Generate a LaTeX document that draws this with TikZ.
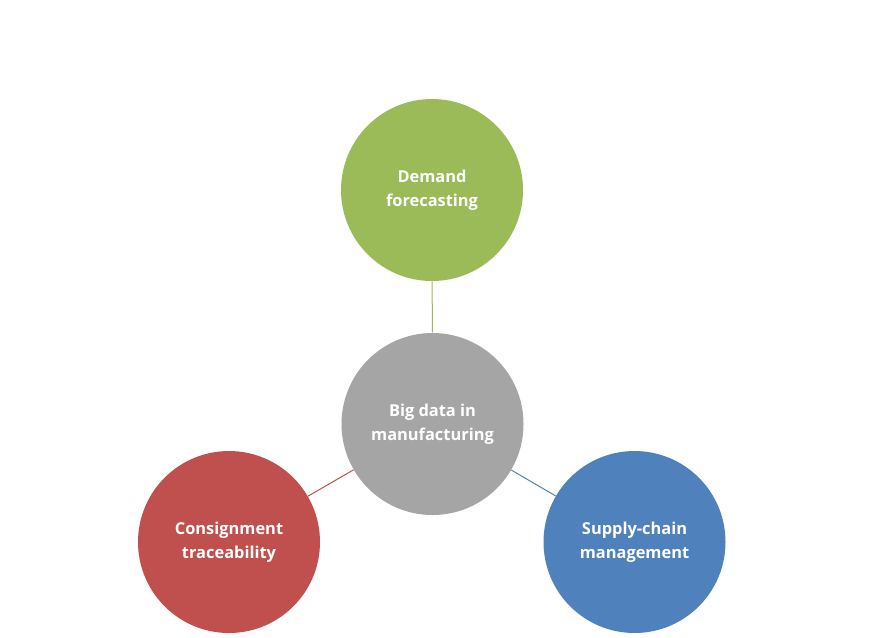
\documentclass[tikz,border=0pt]{standalone}
\usepackage{fontspec}
\setmainfont{Open Sans}
\definecolor{hubgray}{HTML}{A5A5A5}
\definecolor{demandgreen}{HTML}{9BBB59}
\definecolor{tracered}{HTML}{C0504D}
\definecolor{supplyblue}{HTML}{4F81BD}
\tikzset{
  topic/.style={circle,minimum size=136.5pt,inner sep=0pt,text=white,align=center,
    font=\bfseries\fontsize{12.3}{18}\selectfont},
  link/.style={line width=0.75pt}
}
\begin{document}
\begin{tikzpicture}[x=0.75pt,y=-0.75pt]
\useasboundingbox (0,0) rectangle (870,637);
\node[topic,fill=hubgray] (hub) at (432.5,424) {Big data in\\manufacturing};
\node[topic,fill=demandgreen] (demand) at (432,190) {Demand\\forecasting};
\node[topic,fill=tracered] (trace) at (229,542) {Consignment\\traceability};
\node[topic,fill=supplyblue] (supply) at (634.5,542) {Supply-chain\\management};
\draw[link,color=demandgreen] (hub) -- (demand);
\draw[link,color=tracered] (hub) -- (trace);
\draw[link,color=supplyblue] (hub) -- (supply);
\end{tikzpicture}
\end{document}
